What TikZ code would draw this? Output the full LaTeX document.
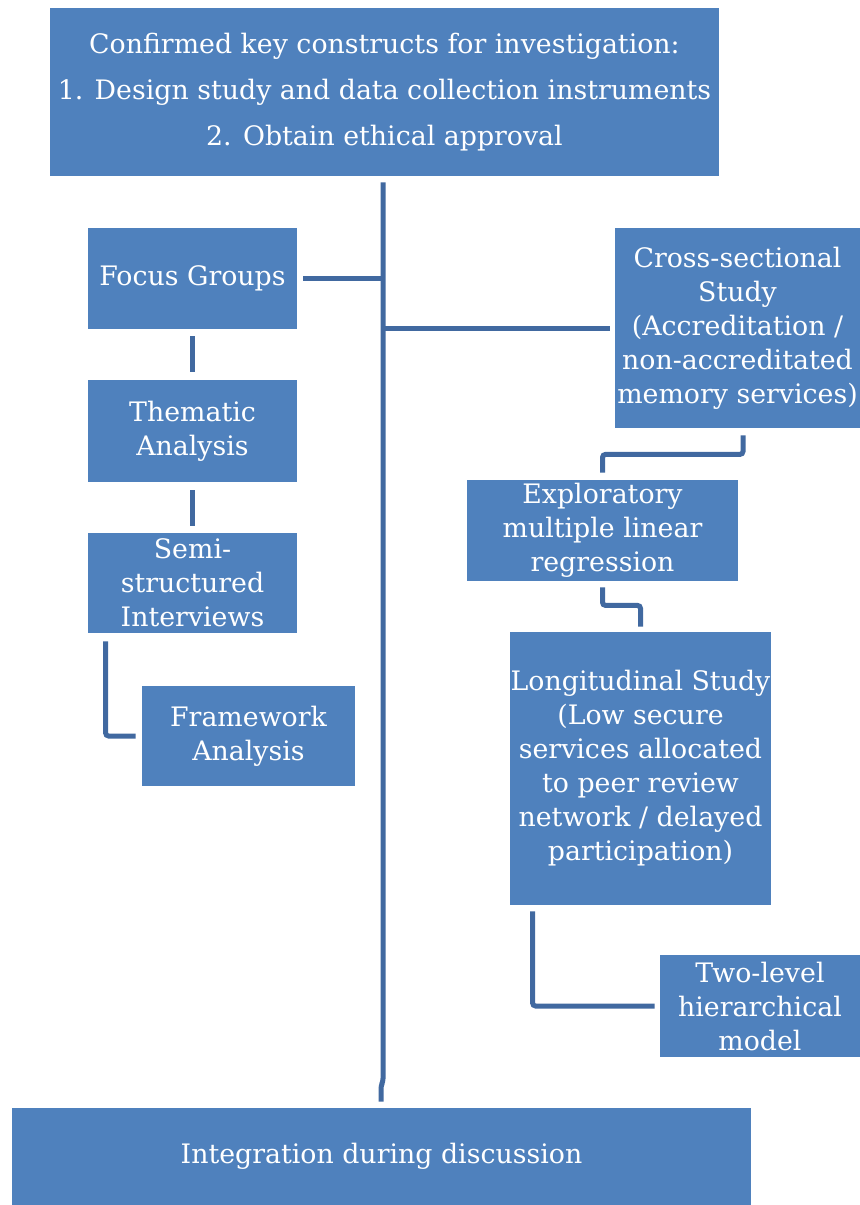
\documentclass[tikz,border=0pt]{standalone}
\usepackage{fontspec}
\setmainfont{DejaVu Serif}
\usetikzlibrary{positioning, calc}

\definecolor{boxblue}{RGB}{79,129,189}
\definecolor{linkblue}{RGB}{65,105,160}

\tikzset{
  blk/.style={fill=boxblue, text=white, align=center, inner sep=0pt,
    font=\fontsize{13.4}{17}\selectfont},
  link/.style={draw=linkblue, line width=2.5pt, rounded corners=1.5pt}
}

\begin{document}
\begin{tikzpicture}[x=0.5pt, y=-0.5pt]
      \useasboundingbox (0,0) rectangle (860,1205);
      % boxes
      \node[blk, minimum width=334.5pt, minimum height=84pt,
      font=\fontsize{13.4}{23}\selectfont] (top) at (384.5,92)
        {Confirmed key constructs for investigation:\\
         1. Design study and data collection instruments\\
         2. Obtain ethical approval};
      \node[blk, minimum width=104.5pt, minimum height=50.5pt] (focus) at (192.5,278.5) {Focus Groups};
      \node[blk, minimum width=104.5pt, minimum height=51pt] (thematic) at (192.5,431) {Thematic\\Analysis};
      \node[blk, minimum width=104.5pt, minimum height=50pt] (semi) at (192.5,583) {Semi-\\structured\\Interviews};
      \node[blk, minimum width=106.5pt, minimum height=50pt] (frame) at (248.5,736) {Framework\\Analysis};
      \node[blk, minimum width=122.5pt, minimum height=100pt] (cross) at (737.5,328)
        {Cross-sectional\\Study\\(Accreditation /\\non-accreditated\\memory services)};
      \node[blk, minimum width=135.5pt, minimum height=50.5pt] (explor) at (602.5,530.5)
        {Exploratory\\multiple linear\\regression};
      \node[blk, minimum width=130.5pt, minimum height=136.5pt] (longi) at (640.5,768.5)
        {Longitudinal Study\\(Low secure\\services allocated\\to peer review\\network / delayed\\participation)};
      \node[blk, minimum width=100pt, minimum height=51pt] (twolev) at (760,1006)
        {Two-level\\hierarchical\\model};
      \node[blk, minimum width=369.5pt, minimum height=48.5pt] (integ) at (381.5,1156.5)
        {Integration during discussion};

      % trunk
      \coordinate (trunktop) at ($(top.south)+(-1.5,6)$);
      \draw[link] (trunktop) -- ($(integ.north)+(1.5,-26)$)
        -- ($(integ.north)+(-0.5,-22)$) -- ($(integ.north)+(-0.5,-6)$);
      \draw[link] ($(focus.east)+(6,0)$) -- (focus.east -| trunktop);
      \draw[link] (trunktop |- cross.west) -- ($(cross.west)+(-5,0)$);

      % qualitative branch
      \draw[link] ($(focus.south)+(0,7)$) -- ($(thematic.north)+(0,-8)$);
      \draw[link] ($(thematic.south)+(0,8)$) -- ($(semi.north)+(0,-7)$);
      \draw[link] ($(semi.south west)+(18,8)$) |- ($(frame.west)+(-6,0)$);

      % quantitative branch
      \draw[link] ($(cross.south)+(5.5,7)$) -- ++(0,19) -| ($(explor.north)+(0,-7)$);
      \draw[link] ($(explor.south)+(0,6)$) -- ++(0,18) -| ($(longi.north)+(0,-5)$);
      \draw[link] ($(longi.south west)+(23,6)$) |- ($(twolev.west)+(-5,0)$);
    \end{tikzpicture}
\end{document}
